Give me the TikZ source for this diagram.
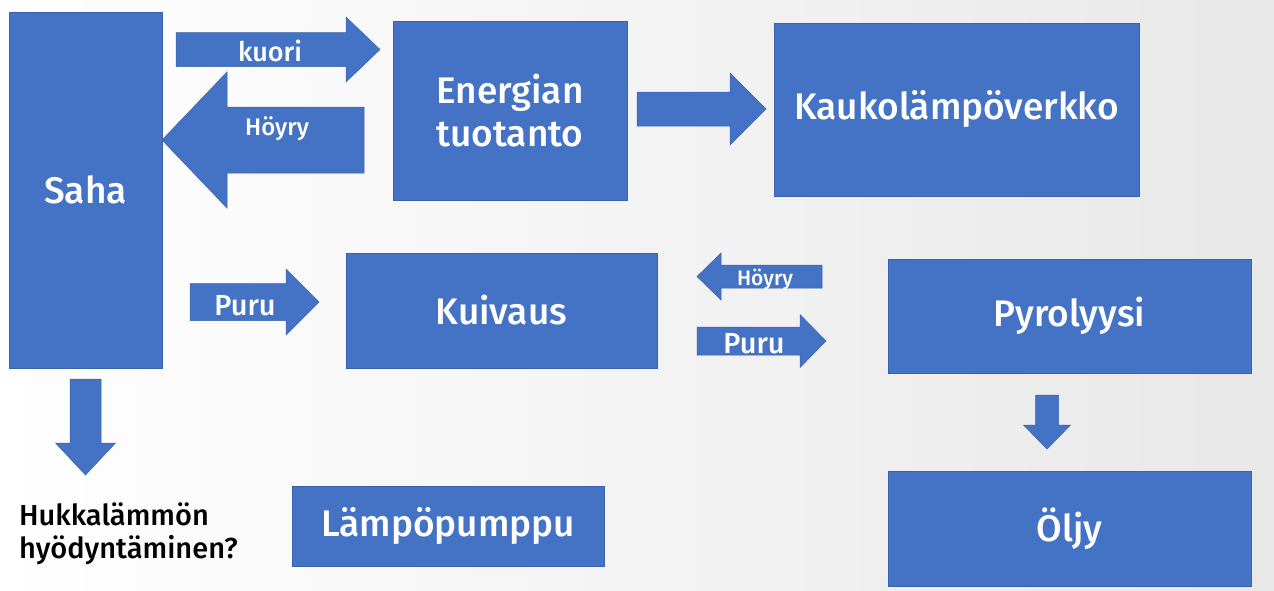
\documentclass[tikz,border=0pt]{standalone}
\usepackage{fontspec}
\setmainfont{Fira Sans}[BoldFont={Fira Sans Medium}]
\definecolor{boxblue}{HTML}{4472C4}
\definecolor{boxedge}{HTML}{3A62AC}
\tikzset{
  box/.style={fill=boxblue, draw=boxedge, line width=0.8pt, text=white, inner sep=0pt,
    font=\fontsize{37}{43}\selectfont\bfseries, align=center},
  flow/.style={fill=boxblue, draw=boxedge, line width=0.5pt},
  flowtext/.style={text=white, inner sep=0pt, anchor=base},
}
\begin{document}
\begin{tikzpicture}[x=1pt,y=-1pt]
  \useasboundingbox (0,0) rectangle (1274,590);
  \fill[left color=white, right color=black!9] (0,0) rectangle (1274,590);
  % boxes
  \node[box, minimum width=153pt, minimum height=356pt] (saha) at (85.5,190) {Saha};
  \node[box, minimum width=234pt, minimum height=179pt] (energia) at (510,110.5) {Energian\\tuotanto};
  \node[box, minimum width=365pt, minimum height=173pt] (kauko) at (956.5,109.5) {Kaukolämpöverkko};
  \node[box, minimum width=311pt, minimum height=115pt] (kuivaus) at (501.5,310.5) {Kuivaus};
  \node[box, minimum width=363pt, minimum height=114pt] (pyro) at (1069.5,316) {Pyrolyysi};
  \node[box, minimum width=363pt, minimum height=115pt] (oljy) at (1069.5,528.5) {Öljy};
  \node[box, minimum width=312pt, minimum height=80pt] (pumppu) at (448,526) {Lämpöpumppu};
  \node[anchor=west, align=left, inner sep=0pt, font=\fontsize{29}{33}\selectfont\bfseries]
    (hukka) at (19,534) {Hukkalämmön\\hyödyntäminen?};
  % block arrows
  \fill[flow] (176,32.5) -- (346,32.5) -- (346,17) -- (380,49.5) -- (346,82) -- (346,66.5) -- (176,66.5) -- cycle;
  \fill[flow] (364,107) -- (227,107) -- (227,72) -- (162,140) -- (227,208) -- (227,173) -- (364,173) -- cycle;
  \fill[flow] (637,92) -- (730,92) -- (730,73) -- (766,109) -- (730,145) -- (730,126) -- (637,126) -- cycle;
  \fill[flow] (190,283.5) -- (286,283.5) -- (286,269) -- (319,302) -- (286,335) -- (286,320.5) -- (190,320.5) -- cycle;
  \fill[flow] (822,265) -- (721,265) -- (721,253) -- (697,276.5) -- (721,300) -- (721,288) -- (822,288) -- cycle;
  \fill[flow] (697,327) -- (800,327) -- (800,314.5) -- (826,341) -- (800,367.5) -- (800,355) -- (697,355) -- cycle;
  \fill[flow] (70,379) -- (101,379) -- (101,443) -- (115.5,443) -- (85.5,475) -- (55.5,443) -- (70,443) -- cycle;
  \fill[flow] (1035.5,395) -- (1058.5,395) -- (1058.5,425) -- (1070.5,425) -- (1047,449) -- (1023.5,425) -- (1035.5,425) -- cycle;
  % arrow labels
  \node[flowtext, font=\fontsize{27}{30}\selectfont\bfseries] (kuori) at (270,61) {kuori};
  \node[flowtext, font=\fontsize{24}{30}\selectfont\bfseries] (hoyry1) at (277,135) {Höyry};
  \node[flowtext, font=\fontsize{29}{30}\selectfont\bfseries] (puru1) at (245,315) {Puru};
  \node[flowtext, font=\fontsize{21}{30}\selectfont\bfseries] (hoyry2) at (765,285) {Höyry};
  \node[flowtext, font=\fontsize{29}{30}\selectfont\bfseries] (puru2) at (754,353) {Puru};
\end{tikzpicture}
\end{document}
